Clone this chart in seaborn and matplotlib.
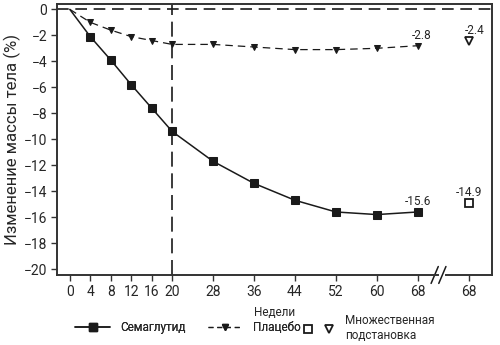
import numpy as np
import pandas as pd
import matplotlib
matplotlib.use("Agg")
import matplotlib.pyplot as plt
import seaborn as sns
from matplotlib.lines import Line2D
from matplotlib.legend_handler import HandlerTuple

weeks = [0, 4, 8, 12, 16, 20, 28, 36, 44, 52, 60, 68]
sema = [0, -2.1, -3.9, -5.8, -7.6, -9.4, -11.7, -13.4, -14.7, -15.6, -15.8, -15.6]
placebo = [0, -1.0, -1.6, -2.1, -2.4, -2.7, -2.7, -2.9, -3.1, -3.1, -3.0, -2.8]
imp_x = 78
imp_sema = -14.9
imp_placebo = -2.4
tick_pos = weeks + [imp_x]
tick_labels = [str(w) for w in weeks] + ["68"]

sns.set_style("ticks")
plt.rcParams['font.family'] = ['Roboto', 'DejaVu Sans']

ink = '#1a1a1a'
fig = plt.figure(figsize=(5, 3.45), dpi=100)
ax = fig.add_axes([0.114, 0.203, 0.87, 0.785])

df = pd.DataFrame({'w': weeks, 's': sema, 'p': placebo})
mk = list(range(1, len(weeks)))
sns.lineplot(data=df, x='w', y='s', ax=ax, color=ink, lw=1.1, marker='s',
             markersize=5.5, markeredgecolor=ink, markevery=mk)
sns.lineplot(data=df, x='w', y='p', ax=ax, color=ink, lw=0.9, marker='v',
             markersize=5, markeredgecolor=ink, linestyle=(0, (6, 4)), markevery=mk)

# множественная подстановка
ax.plot([imp_x], [imp_sema], marker='s', ms=5.5, mfc='white', mec=ink, mew=1.3, ls='none')
ax.plot([imp_x], [imp_placebo], marker='v', ms=5.5, mfc='white', mec=ink, mew=1.3, ls='none')

# опорные линии
ax.axhline(0, color=ink, lw=1.2, dashes=(7, 4), zorder=1)
ax.axvline(20, color=ink, lw=1.2, dashes=(9, 4), zorder=1)

# подписи значений
fs = 8.5
ax.text(weeks[-1], sema[-1] + 0.3, f"{sema[-1]}", ha='center', va='bottom', fontsize=fs)
ax.text(weeks[-1] + 0.8, placebo[-1] + 0.3, f"{placebo[-1]}", ha='center', va='bottom', fontsize=fs)
ax.text(imp_x, imp_sema + 0.3, f"{imp_sema}", ha='center', va='bottom', fontsize=fs)
ax.text(imp_x + 1.2, imp_placebo + 0.3, f"{imp_placebo}", ha='center', va='bottom', fontsize=fs)

ax.set_xlim(-2.5, 82.5)
ax.set_ylim(-20.45, 0.4)
ax.set_xticks(tick_pos)
ax.set_xticklabels(tick_labels)
ax.set_yticks(range(0, -21, -2))
ax.tick_params(labelsize=10, length=4, width=1, color='#333333', pad=3)
for s in ax.spines.values():
    s.set_color('#333333')
    s.set_linewidth(1.4)
ax.set_xlabel("Недели", fontsize=8.5, labelpad=5)
ax.set_ylabel("Изменение массы тела (%)", fontsize=12, labelpad=2)

# разрыв оси
ax.spines['bottom'].set_bounds(-2.5, 72.0)
ax2 = ax.twiny()
ax2.set_xlim(ax.get_xlim())
ax2.xaxis.set_ticks([])
for k in ['top', 'left', 'right']:
    ax2.spines[k].set_visible(False)
ax2.spines['bottom'].set_bounds(73.5, 82.5)
ax2.spines['bottom'].set_color('#333333')
ax2.spines['bottom'].set_linewidth(1.4)
for dx in (71.3, 72.8):
    ax.plot([dx - 0.7, dx + 0.7], [-21.1, -19.8], color=ink, lw=1.1, clip_on=False)

h1 = Line2D([], [], color=ink, lw=1.1, marker='s', ms=5.5)
h2 = Line2D([], [], color=ink, lw=0.9, marker='v', ms=5, linestyle=(0, (4, 3)))
h3a = Line2D([], [], marker='s', ms=5.5, mfc='white', mec=ink, mew=1.3, ls='none')
h3b = Line2D([], [], marker='v', ms=5.5, mfc='white', mec=ink, mew=1.3, ls='none')
leg1 = fig.legend([h1, h2], ["Семаглутид", "Плацебо"],
                  loc='center left', bbox_to_anchor=(0.15, 0.05), ncol=2, frameon=False,
                  fontsize=8.5, handlelength=3.0, columnspacing=1.9, handletextpad=0.8,
                  borderpad=0, borderaxespad=0)
fig.add_artist(leg1)
fig.legend([(h3a, h3b)], ["Множественная\nподстановка"],
           handler_map={tuple: HandlerTuple(ndivide=None, pad=0.6)},
           loc='center left', bbox_to_anchor=(0.602, 0.05), frameon=False,
           fontsize=8.5, handlelength=3.0, handletextpad=0.7,
           borderpad=0, borderaxespad=0)

fig.savefig("out.png", dpi=100)
